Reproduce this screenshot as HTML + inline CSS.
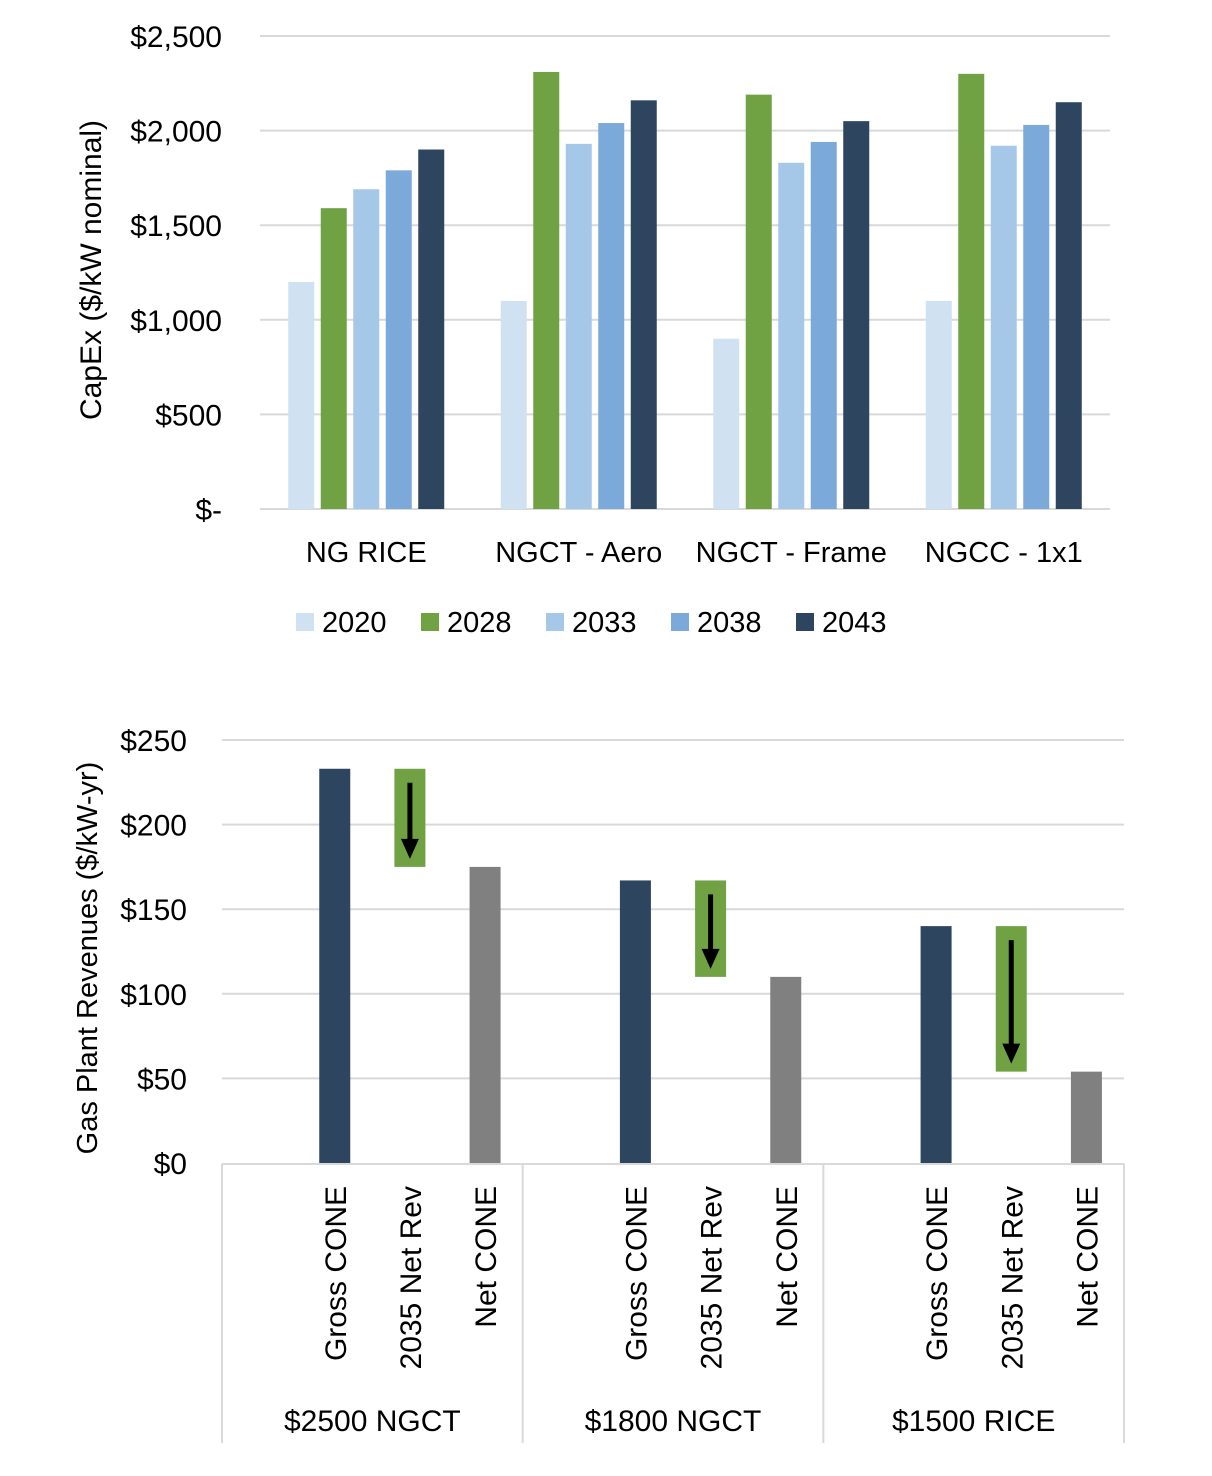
<!DOCTYPE html>
<html><head><meta charset="utf-8"><style>
body{margin:0;background:#fff;}
svg{display:block;font-family:"Liberation Sans",Arial,sans-serif;}
</style></head><body>
<svg id="svg" width="1212" height="1476" viewBox="0 0 1212 1476">
<g id="topchart"></g>
<g id="botchart"></g>
</svg>
<script>
const NS="http://www.w3.org/2000/svg";
// ---- top chart data ----
const capexCats=["NG RICE","NGCT - Aero","NGCT - Frame","NGCC - 1x1"];
const capexYears=["2020","2028","2033","2038","2043"];
const capex2020=[1200,1100,900,1100];
const capex2028=[1590,2310,2190,2300];
const capex2033=[1690,1930,1830,1920];
const capex2038=[1790,2040,1940,2030];
const capex2043=[1900,2160,2050,2150];
const capexTicks=[0,500,1000,1500,2000,2500];
const capexTickLabels=["$-","$500","$1,000","$1,500","$2,000","$2,500"];
// ---- bottom chart data ----
const groups=["$2500 NGCT","$1800 NGCT","$1500 RICE"];
const subCats=["Gross CONE","2035 Net Rev","Net CONE"];
const grossCone=[233,167,140];
const netCone=[175,110,54];
const revTicks=[0,50,100,150,200,250];
const revTickLabels=["$0","$50","$100","$150","$200","$250"];

function el(parent,tag,attrs,text){const e=document.createElementNS(NS,tag);for(const k in attrs)e.setAttribute(k,attrs[k]);if(text!==undefined)e.textContent=text;parent.appendChild(e);return e;}

// top
const topG=document.getElementById('topchart');
const tX0=260,tX1=1110,tY0=509,tY1=36;
const ty=v=>tY0-(v/2500)*(tY0-tY1);
const gw=(tX1-tX0)/capexCats.length;
const colors=["#d0e2f2","#70a244","#a6c8e8","#7ba9da","#2e4560"];
const series=[capex2020,capex2028,capex2033,capex2038,capex2043];
capexTicks.forEach((t,i)=>{
  const g=el(topG,'line',{x1:tX0,x2:tX1,y1:ty(t),y2:ty(t),stroke:"#d9d9d9","stroke-width":2});
  
  const l=el(topG,'text',{x:222,y:ty(t)+11,"text-anchor":"end","font-size":30},capexTickLabels[i]);
  
});
capexCats.forEach((c,ci)=>{
  const cx=tX0+gw*(ci+0.5);
  series.forEach((s,si)=>{
    const x=cx+(si-2)*32.5-13;
    const r=el(topG,'rect',{x:x,y:ty(s[ci]),width:26,height:tY0-ty(s[ci]),fill:colors[si]});
    
  });
  const l=el(topG,'text',{x:cx,y:562,"text-anchor":"middle","font-size":29},c);
  
});
const yt=el(topG,'text',{transform:"translate(101,270) rotate(-90)","text-anchor":"middle","font-size":30},"CapEx ($/kW nominal)");

const legX=[296,421,546,671,796];
capexYears.forEach((y,i)=>{
  const r=el(topG,'rect',{x:legX[i],y:613,width:18,height:18,fill:colors[i]});
  
  const t=el(topG,'text',{x:legX[i]+26,y:632,"font-size":29},y);
  
});

// bottom
const botG=document.getElementById('botchart');
const bX0=222,bX1=1124,bY0=1163,bY1=740;
const by=v=>bY0-(v/250)*(bY0-bY1);
const bgw=(bX1-bX0)/groups.length;
const slot=bgw/4;
revTicks.forEach((t,i)=>{
  if(t>0){const g=el(botG,'line',{x1:bX0,x2:bX1,y1:by(t),y2:by(t),stroke:"#d9d9d9","stroke-width":2});
  }
  const l=el(botG,'text',{x:187,y:by(t)+11,"text-anchor":"end","font-size":30},revTickLabels[i]);
  
});
const ax=el(botG,'line',{x1:bX0,x2:bX1,y1:1164,y2:1164,stroke:"#d9d9d9","stroke-width":2});

for(let i=0;i<=groups.length;i++){
  const x=bX0+bgw*i;
  const s=el(botG,'line',{x1:x,x2:x,y1:1164,y2:1443,stroke:"#d9d9d9","stroke-width":2});
  
}
groups.forEach((g,gi)=>{
  const gx=bX0+bgw*gi;
  const c1=gx+slot*1.5,c2=gx+slot*2.5,c3=gx+slot*3.5,bw=31;
  let r=el(botG,'rect',{x:c1-bw/2,y:by(grossCone[gi]),width:bw,height:bY0-by(grossCone[gi]),fill:"#2e4560"});
  
  r=el(botG,'rect',{x:c2-bw/2,y:by(grossCone[gi]),width:bw,height:by(netCone[gi])-by(grossCone[gi]),fill:"#70a244"});
  
  const a0=by(grossCone[gi])+14,a1=by(netCone[gi])-8;
  const sh=el(botG,'line',{x1:c2,x2:c2,y1:a0,y2:a1-18,stroke:"#000","stroke-width":5});
  
  const hd=el(botG,'polygon',{points:`${c2-9},${a1-20} ${c2+9},${a1-20} ${c2},${a1}`,fill:"#000"});
  
  r=el(botG,'rect',{x:c3-bw/2,y:by(netCone[gi]),width:bw,height:bY0-by(netCone[gi]),fill:"#808080"});
  
  [c1,c2,c3].forEach((cx,si)=>{
    const t=el(botG,'text',{transform:`translate(${cx+11},1186) rotate(-90)`,"text-anchor":"end","font-size":30},subCats[si]);
    
  });
  const gl=el(botG,'text',{x:gx+bgw/2,y:1431,"text-anchor":"middle","font-size":30},g);
  
});
const yt2=el(botG,'text',{transform:"translate(97,958) rotate(-90)","text-anchor":"middle","font-size":29},"Gas Plant Revenues ($/kW-yr)");

</script>
</body></html>
